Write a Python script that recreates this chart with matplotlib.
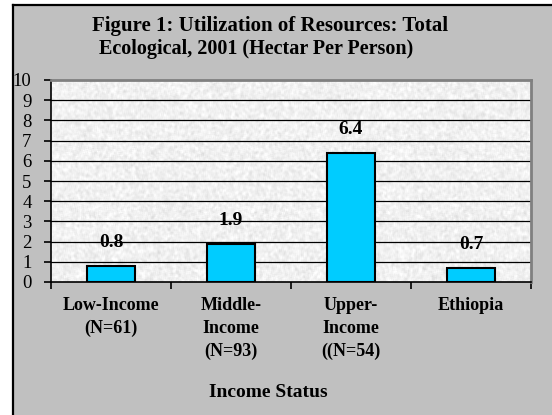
import numpy as np
import matplotlib
matplotlib.use("Agg")
import matplotlib.pyplot as plt
from matplotlib.patches import Rectangle
from matplotlib.lines import Line2D

categories = ["Low-Income\n(N=61)", "Middle-\nIncome\n(N=93)", "Upper-\nIncome\n((N=54)", "Ethiopia"]
values = [0.8, 1.9, 6.4, 0.7]
y_ticks = list(range(0, 11))
title_lines = ["Figure 1: Utilization of Resources: Total",
               "Ecological, 2001 (Hectar Per Person)"]
x_title = "Income Status"

W, H = 552, 415
serif = ["Liberation Serif", "DejaVu Serif"]

fig = plt.figure(figsize=(W / 100, H / 100), dpi=100)
fig.patch.set_facecolor("white")

# gray chart area with dark border on the left and top
fig.add_artist(Rectangle((12 / W, 0), 1 - 12 / W, (H - 5) / H,
                         transform=fig.transFigure, facecolor="#C0C0C0",
                         edgecolor="none", zorder=0))
fig.add_artist(Line2D([12.5 / W, 12.5 / W], [0, (H - 5) / H], transform=fig.transFigure,
                      color="black", lw=1.6, zorder=1))
fig.add_artist(Line2D([12.5 / W, 1], [(H - 5) / H, (H - 5) / H], transform=fig.transFigure,
                      color="black", lw=1.6, zorder=1))

ax = fig.add_axes([51 / W, (H - 282) / H, 480 / W, 202 / H])
ax.set_xlim(-0.5, len(values) - 0.5)
ax.set_ylim(0, 10)

# granite-like plot area fill
rng = np.random.default_rng(3)
tex = rng.normal(0, 1, (200, 480))
k = np.ones(3) / 3
tex = np.apply_along_axis(lambda r: np.convolve(r, k, mode="same"), 1, tex)
tex = np.apply_along_axis(lambda c: np.convolve(c, k, mode="same"), 0, tex)
tex = 0.945 + 0.022 * tex / tex.std()
ax.imshow(np.clip(tex, 0.86, 1.0), cmap="gray", vmin=0, vmax=1, aspect="auto",
          extent=(-0.5, len(values) - 0.5, 0, 10), zorder=0, interpolation="bilinear")

for y in range(1, 10):
    ax.axhline(y, color="black", lw=0.9, zorder=1)

x = np.arange(len(values))
bars = ax.bar(x, values, width=0.4, color="#00CCFF", edgecolor="black", linewidth=1.5, zorder=2)
for xi, v in zip(x, values):
    ax.annotate(f"{v:.1f}", (xi, v), xytext=(0, 16.5), textcoords="offset points",
                ha="center", va="center", fontsize=14, fontweight="bold",
                family=serif, zorder=3)

for side in ("top", "right"):
    ax.spines[side].set_color("#808080")
    ax.spines[side].set_linewidth(2)
for side in ("left", "bottom"):
    ax.spines[side].set_color("black")
    ax.spines[side].set_linewidth(1.2)

ax.set_yticks(y_ticks)
ax.set_yticklabels([str(t) for t in y_ticks], family=serif, fontsize=13.5)
ax.tick_params(axis="y", length=5, width=1.2, pad=9, direction="out")

ax.set_xticks(x)
ax.set_xticklabels(categories, family=serif, fontsize=13, fontweight="bold",
                   linespacing=1.43, va="top")
ax.tick_params(axis="x", which="major", length=0, pad=11)
ax.set_xticks(np.arange(-0.5, len(values)), minor=True)
ax.tick_params(axis="x", which="minor", length=5, width=1.2, direction="out")

fig.text(270 / W, 1 - 26 / H, title_lines[0], ha="center", va="center",
         fontsize=15, fontweight="bold", family=serif)
fig.text(256 / W, 1 - 49 / H, title_lines[1], ha="center", va="center",
         fontsize=14.5, fontweight="bold", family=serif)
fig.text(268 / W, 1 - 392 / H, x_title, ha="center", va="center",
         fontsize=14, fontweight="bold", family=serif)

fig.savefig("out.png", dpi=100)
